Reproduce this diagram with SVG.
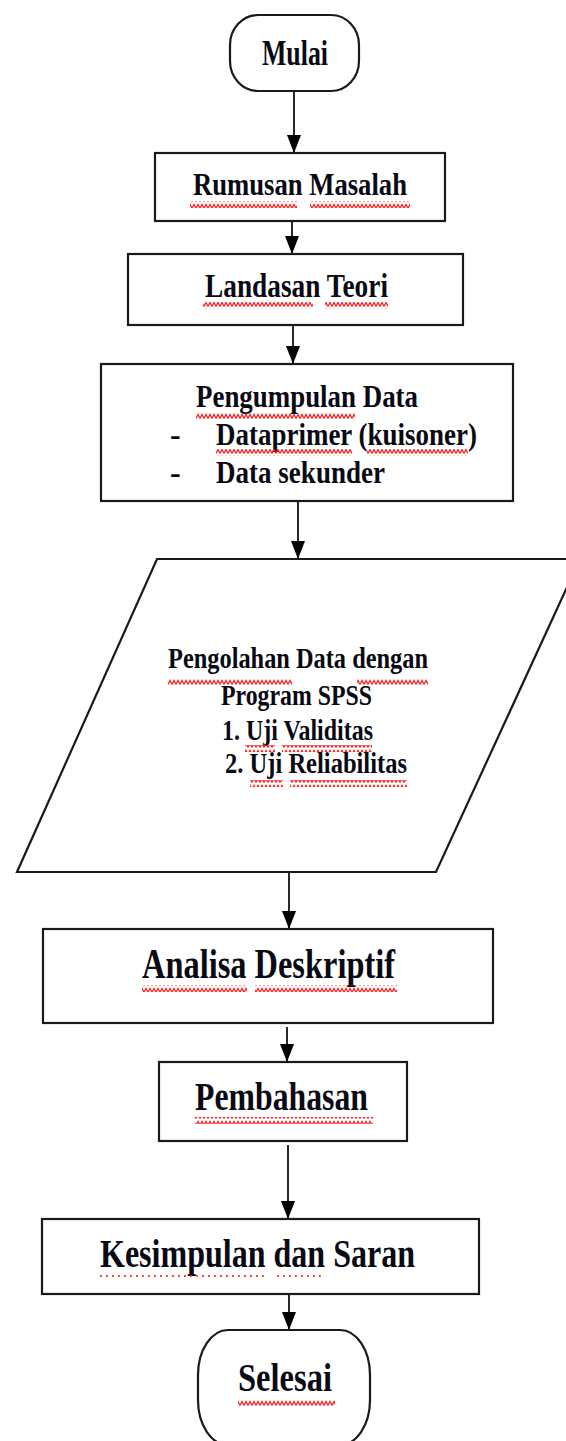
<svg xmlns="http://www.w3.org/2000/svg" width="566" height="1441" viewBox="0 0 566 1441">
<defs>
<style>
.s{fill:#fff;stroke:#1a1a1a;stroke-width:2.2}
.t{font-family:"Liberation Serif","Times New Roman",serif;font-weight:bold;fill:#0a0a14}
.c{stroke:#111;stroke-width:1.8;fill:none}
.w{fill:url(#wave)}
.d{stroke:#f33;stroke-width:1.8;stroke-dasharray:1.8 4.2;fill:none}
</style>
<pattern id="wave" patternUnits="userSpaceOnUse" width="4" height="7">
<path d="M0 5.5 L2 1.5 L4 5.5" fill="none" stroke="#f22" stroke-width="1.3"/>
</pattern>
<marker id="ah" markerUnits="userSpaceOnUse" markerWidth="20" markerHeight="16" viewBox="0 0 20 16" refX="19" refY="8" orient="auto">
<path d="M1 1 L19 8 L1 15 Z" fill="#000"/>
</marker>
</defs>
<rect width="566" height="1441" fill="#fff"/>

<g id="connectors">
<line class="c" x1="294" y1="91" x2="294" y2="153" marker-end="url(#ah)"/>
<line class="c" x1="292" y1="214" x2="292" y2="254" marker-end="url(#ah)"/>
<line class="c" x1="293" y1="325" x2="293" y2="364" marker-end="url(#ah)"/>
<line class="c" x1="298" y1="501" x2="298" y2="559" marker-end="url(#ah)"/>
<line class="c" x1="289" y1="872" x2="289" y2="929" marker-end="url(#ah)"/>
<line class="c" x1="287" y1="1027" x2="287" y2="1062" marker-end="url(#ah)"/>
<line class="c" x1="288" y1="1145" x2="288" y2="1219" marker-end="url(#ah)"/>
<line class="c" x1="289" y1="1289" x2="289" y2="1330" marker-end="url(#ah)"/>
</g>

<g id="mulai">
<rect class="s" x="230" y="15" width="129" height="76" rx="28" ry="30"/>
<text class="t" x="262" y="65" font-size="35" textLength="66" lengthAdjust="spacingAndGlyphs">Mulai</text>
</g>

<g id="rumusan">
<rect class="s" x="155" y="153" width="290" height="68"/>
<text class="t" x="193" y="195" font-size="32" textLength="214" lengthAdjust="spacingAndGlyphs">Rumusan Masalah</text>
<rect class="w" x="190" y="201" width="107" height="7"/>
<rect class="w" x="310" y="201" width="100" height="7"/>
</g>

<g id="landasan">
<rect class="s" x="128" y="254" width="335" height="71"/>
<text class="t" x="205" y="297" font-size="34" textLength="183" lengthAdjust="spacingAndGlyphs">Landasan Teori</text>
<rect class="w" x="203" y="302" width="110" height="7"/>
<rect class="w" x="325" y="302" width="63" height="7"/>
</g>

<g id="pengumpulan">
<rect class="s" x="101" y="364" width="412" height="137"/>
<text class="t" x="196" y="407" font-size="32" textLength="222" lengthAdjust="spacingAndGlyphs">Pengumpulan Data</text>
<text class="t" x="170" y="445" font-size="32">-</text>
<text class="t" x="216" y="445" font-size="32" textLength="261" lengthAdjust="spacingAndGlyphs">Dataprimer (kuisoner)</text>
<text class="t" x="170" y="483" font-size="32">-</text>
<text class="t" x="216" y="483" font-size="32" textLength="169" lengthAdjust="spacingAndGlyphs">Data sekunder</text>
<rect class="w" x="196" y="413" width="159" height="7"/>
<rect class="w" x="216" y="449" width="136" height="7"/>
<rect class="w" x="367" y="449" width="101" height="7"/>
</g>

<g id="pengolahan">
<polygon class="s" points="157,559 580,559 436,872 17,872"/>
<text class="t" x="168" y="668" font-size="29" textLength="260" lengthAdjust="spacingAndGlyphs">Pengolahan Data dengan</text>
<text class="t" x="221" y="705" font-size="29" textLength="151" lengthAdjust="spacingAndGlyphs">Program SPSS</text>
<text class="t" x="222" y="740" font-size="29" textLength="151" lengthAdjust="spacingAndGlyphs">1. Uji Validitas</text>
<text class="t" x="225" y="773" font-size="29" textLength="182" lengthAdjust="spacingAndGlyphs">2. Uji Reliabilitas</text>
<rect class="w" x="168" y="678" width="124" height="7"/>
<rect class="w" x="357" y="678" width="71" height="7"/>
<rect class="w" x="245" y="745" width="30" height="7"/>
<rect class="w" x="282" y="745" width="90" height="7"/>
<rect class="w" x="250" y="780" width="33" height="7"/>
<rect class="w" x="290" y="780" width="117" height="7"/>
</g>

<g id="analisa">
<rect class="s" x="43" y="929" width="450" height="94"/>
<text class="t" x="142" y="978" font-size="42" textLength="253" lengthAdjust="spacingAndGlyphs">Analisa Deskriptif</text>
<rect class="w" x="142" y="985" width="105" height="7"/>
<rect class="w" x="255" y="985" width="142" height="7"/>
</g>

<g id="pembahasan">
<rect class="s" x="159" y="1062" width="248" height="79"/>
<text class="t" x="195" y="1110" font-size="40" textLength="173" lengthAdjust="spacingAndGlyphs">Pembahasan</text>
<rect class="w" x="195" y="1117" width="178" height="7"/>
</g>

<g id="kesimpulan">
<rect class="s" x="42" y="1219" width="437" height="75"/>
<text class="t" x="100" y="1267" font-size="40" textLength="315" lengthAdjust="spacingAndGlyphs">Kesimpulan  dan Saran</text>
<line class="d" x1="100" y1="1276" x2="266" y2="1276"/>
<line class="d" x1="277" y1="1276" x2="324" y2="1276"/>
</g>

<g id="selesai">
<rect class="s" x="198" y="1330" width="172" height="115" rx="30" ry="45"/>
<text class="t" x="238" y="1391" font-size="41" textLength="94" lengthAdjust="spacingAndGlyphs">Selesai</text>
<rect class="w" x="238" y="1400" width="97" height="7"/>
</g>
</svg>
